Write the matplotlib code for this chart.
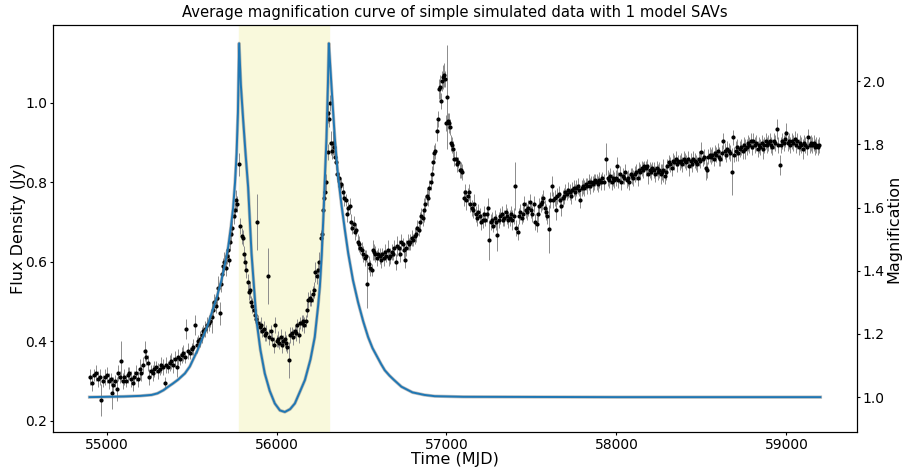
import numpy as np
import matplotlib
matplotlib.use('Agg')
import matplotlib.pyplot as plt
import matplotlib.patheffects as pe

mjd = [
    54905, 54916, 54927, 54938, 54949, 54960, 54970, 54981, 54992, 55003,
    55014, 55025, 55030, 55040, 55050, 55059, 55068, 55077, 55085, 55094,
    55104, 55114, 55124, 55134, 55144, 55154, 55164, 55174, 55184, 55194,
    55204, 55214, 55224, 55232, 55242, 55252, 55262, 55272, 55282, 55292,
    55302, 55312, 55322, 55332, 55343, 55352, 55362, 55372, 55382, 55392,
    55402, 55412, 55422, 55432, 55442, 55452, 55462, 55470, 55480, 55490,
    55500, 55510, 55520, 55530, 55540, 55550, 55560, 55570, 55580, 55590,
    55600, 55610, 55618, 55626, 55634, 55642, 55650, 55658, 55665, 55672,
    55679, 55686, 55693, 55700, 55707, 55714, 55721, 55728, 55734, 55741,
    55748, 55755, 55762, 55770, 55780, 55788, 55795, 55802, 55809, 55816,
    55823, 55830, 55837, 55844, 55851, 55858, 55865, 55872, 55879, 55886,
    55893, 55900, 55908, 55916, 55924, 55932, 55940, 55951, 55958, 55966,
    55975, 55984, 55992, 56000, 56008, 56016, 56024, 56032, 56040, 56048,
    56056, 56064, 56073, 56082, 56090, 56098, 56106, 56114, 56122, 56130,
    56140, 56148, 56156, 56164, 56172, 56180, 56188, 56196, 56204, 56212,
    56220, 56228, 56236, 56244, 56252, 56259, 56266, 56272, 56280, 56287,
    56294, 56300, 56305, 56311, 56316, 56322, 56328, 56334, 56340, 56346,
    56352, 56358, 56366, 56374, 56382, 56390, 56398, 56406, 56414, 56422,
    56430, 56438, 56446, 56454, 56462, 56470, 56478, 56486, 56494, 56502,
    56510, 56518, 56526, 56535, 56543, 56551, 56559, 56565, 56574, 56582,
    56590, 56598, 56606, 56614, 56622, 56630, 56638, 56646, 56654, 56662,
    56670, 56678, 56686, 56694, 56702, 56710, 56718, 56726, 56734, 56742,
    56750, 56756, 56764, 56772, 56780, 56788, 56796, 56804, 56812, 56820,
    56828, 56836, 56844, 56852, 56860, 56868, 56876, 56884, 56892, 56900,
    56908, 56914, 56921, 56928, 56935, 56942, 56950, 56956, 56962, 56968,
    56974, 56980, 56986, 56992, 56998, 57002, 57008, 57014, 57020, 57026,
    57032, 57040, 57047, 57054, 57062, 57070, 57078, 57086, 57094, 57102,
    57108, 57116, 57124, 57132, 57140, 57148, 57156, 57164, 57172, 57180,
    57188, 57196, 57204, 57212, 57220, 57228, 57236, 57244, 57252, 57260,
    57268, 57276, 57284, 57292, 57300, 57308, 57316, 57324, 57332, 57340,
    57348, 57356, 57364, 57372, 57380, 57388, 57396, 57402, 57410, 57418,
    57426, 57434, 57442, 57450, 57458, 57466, 57474, 57482, 57490, 57498,
    57506, 57514, 57522, 57530, 57538, 57546, 57554, 57562, 57570, 57578,
    57586, 57594, 57604, 57612, 57620, 57628, 57636, 57644, 57652, 57660,
    57668, 57676, 57684, 57692, 57700, 57708, 57716, 57724, 57732, 57740,
    57748, 57756, 57764, 57772, 57780, 57788, 57796, 57804, 57812, 57820,
    57828, 57836, 57844, 57852, 57860, 57868, 57876, 57884, 57892, 57900,
    57908, 57916, 57924, 57940, 57948, 57956, 57964, 57972, 57980, 57988,
    57996, 58004, 58012, 58020, 58028, 58036, 58044, 58052, 58060, 58068,
    58076, 58084, 58092, 58100, 58108, 58116, 58124, 58132, 58140, 58148,
    58156, 58164, 58172, 58180, 58188, 58196, 58204, 58212, 58220, 58228,
    58236, 58244, 58252, 58260, 58268, 58276, 58284, 58292, 58300, 58308,
    58316, 58324, 58332, 58340, 58348, 58356, 58364, 58372, 58380, 58388,
    58396, 58404, 58412, 58420, 58428, 58436, 58444, 58452, 58460, 58468,
    58476, 58484, 58492, 58500, 58508, 58516, 58524, 58532, 58540, 58548,
    58556, 58564, 58572, 58580, 58588, 58596, 58604, 58612, 58620, 58628,
    58636, 58644, 58652, 58660, 58668, 58678, 58686, 58694, 58702, 58710,
    58718, 58726, 58734, 58742, 58750, 58758, 58766, 58774, 58782, 58790,
    58798, 58806, 58814, 58822, 58830, 58838, 58846, 58854, 58862, 58870,
    58878, 58886, 58894, 58902, 58910, 58918, 58926, 58934, 58944, 58952,
    58960, 58968, 58976, 58984, 58992, 59000, 59008, 59016, 59024, 59032,
    59040, 59048, 59056, 59064, 59072, 59080, 59088, 59096, 59104, 59112,
    59120, 59128, 59136, 59144, 59152, 59160, 59168, 59176, 59184, 59192,
]

flux = [
    0.310, 0.295, 0.315, 0.320, 0.305, 0.310, 0.253, 0.300, 0.310, 0.315,
    0.300, 0.305, 0.270, 0.290, 0.300, 0.280, 0.320, 0.310, 0.350, 0.300,
    0.310, 0.300, 0.315, 0.320, 0.305, 0.295, 0.310, 0.320, 0.305, 0.330,
    0.320, 0.340, 0.375, 0.360, 0.345, 0.310, 0.325, 0.320, 0.330, 0.335,
    0.325, 0.330, 0.340, 0.335, 0.295, 0.340, 0.335, 0.345, 0.350, 0.340,
    0.355, 0.335, 0.360, 0.355, 0.365, 0.370, 0.360, 0.430, 0.375, 0.370,
    0.380, 0.385, 0.440, 0.390, 0.400, 0.405, 0.415, 0.425, 0.430, 0.440,
    0.445, 0.450, 0.460, 0.480, 0.500, 0.490, 0.510, 0.535, 0.470, 0.545,
    0.570, 0.590, 0.600, 0.585, 0.615, 0.630, 0.605, 0.650, 0.670, 0.685,
    0.715, 0.730, 0.755, 0.745, 0.845, 0.690, 0.665, 0.660, 0.620, 0.600,
    0.580, 0.550, 0.525, 0.530, 0.500, 0.490, 0.480, 0.465, 0.455, 0.700,
    0.445, 0.435, 0.440, 0.425, 0.430, 0.415, 0.420, 0.565, 0.410, 0.425,
    0.405, 0.390, 0.440, 0.400, 0.405, 0.395, 0.410, 0.390, 0.400, 0.405,
    0.395, 0.385, 0.353, 0.415, 0.420, 0.410, 0.425, 0.420, 0.440, 0.415,
    0.445, 0.445, 0.450, 0.440, 0.450, 0.480, 0.505, 0.510, 0.505, 0.520,
    0.530, 0.575, 0.565, 0.580, 0.600, 0.660, 0.670, 0.730, 0.760, 0.775,
    0.800, 0.877, 0.975, 0.960, 0.999, 0.900, 0.880, 0.900, 0.890, 0.865,
    0.850, 0.820, 0.810, 0.790, 0.795, 0.775, 0.760, 0.755, 0.720, 0.735,
    0.740, 0.700, 0.685, 0.695, 0.675, 0.680, 0.650, 0.645, 0.635, 0.630,
    0.620, 0.610, 0.615, 0.545, 0.595, 0.585, 0.580, 0.630, 0.625, 0.620,
    0.610, 0.620, 0.615, 0.605, 0.620, 0.610, 0.625, 0.615, 0.630, 0.610,
    0.615, 0.625, 0.620, 0.635, 0.600, 0.640, 0.635, 0.620, 0.650, 0.645,
    0.630, 0.605, 0.635, 0.650, 0.645, 0.650, 0.660, 0.655, 0.665, 0.670,
    0.685, 0.680, 0.700, 0.715, 0.710, 0.730, 0.745, 0.765, 0.760, 0.785,
    0.800, 0.820, 0.850, 0.875, 0.880, 0.930, 0.960, 1.035, 1.040, 1.005,
    1.055, 1.065, 1.070, 1.060, 0.950, 1.015, 0.955, 0.950, 0.940, 0.900,
    0.895, 0.885, 0.860, 0.860, 0.845, 0.850, 0.830, 0.830, 0.825, 0.760,
    0.775, 0.755, 0.765, 0.775, 0.745, 0.735, 0.730, 0.745, 0.720, 0.710,
    0.725, 0.715, 0.700, 0.705, 0.720, 0.705, 0.720, 0.735, 0.655, 0.700,
    0.705, 0.690, 0.710, 0.700, 0.668, 0.705, 0.715, 0.720, 0.705, 0.710,
    0.725, 0.715, 0.705, 0.710, 0.720, 0.705, 0.715, 0.790, 0.685, 0.675,
    0.715, 0.725, 0.710, 0.720, 0.745, 0.730, 0.725, 0.735, 0.750, 0.730,
    0.720, 0.745, 0.700, 0.695, 0.720, 0.740, 0.745, 0.750, 0.760, 0.735,
    0.725, 0.715, 0.683, 0.755, 0.790, 0.755, 0.760, 0.730, 0.765, 0.770,
    0.755, 0.740, 0.760, 0.765, 0.775, 0.770, 0.780, 0.775, 0.765, 0.780,
    0.785, 0.775, 0.785, 0.790, 0.780, 0.755, 0.785, 0.790, 0.785, 0.795,
    0.790, 0.800, 0.790, 0.800, 0.795, 0.800, 0.805, 0.800, 0.795, 0.805,
    0.800, 0.810, 0.800, 0.858, 0.810, 0.805, 0.815, 0.800, 0.810, 0.805,
    0.810, 0.840, 0.805, 0.820, 0.800, 0.815, 0.810, 0.825, 0.805, 0.810,
    0.800, 0.820, 0.815, 0.810, 0.820, 0.825, 0.810, 0.830, 0.825, 0.835,
    0.830, 0.840, 0.835, 0.840, 0.820, 0.830, 0.825, 0.835, 0.830, 0.820,
    0.835, 0.825, 0.830, 0.820, 0.825, 0.830, 0.815, 0.825, 0.840, 0.850,
    0.845, 0.835, 0.855, 0.850, 0.860, 0.845, 0.855, 0.850, 0.855, 0.845,
    0.860, 0.855, 0.850, 0.860, 0.840, 0.855, 0.845, 0.860, 0.855, 0.850,
    0.845, 0.860, 0.855, 0.876, 0.860, 0.865, 0.836, 0.830, 0.865, 0.870,
    0.865, 0.870, 0.860, 0.875, 0.870, 0.880, 0.865, 0.860, 0.875, 0.903,
    0.880, 0.870, 0.885, 0.880, 0.875, 0.827, 0.913, 0.870, 0.880, 0.890,
    0.875, 0.885, 0.890, 0.880, 0.895, 0.885, 0.890, 0.900, 0.895, 0.905,
    0.890, 0.905, 0.895, 0.900, 0.885, 0.895, 0.890, 0.900, 0.885, 0.895,
    0.905, 0.895, 0.900, 0.905, 0.895, 0.890, 0.905, 0.900, 0.934, 0.895,
    0.844, 0.895, 0.905, 0.900, 0.910, 0.924, 0.900, 0.905, 0.895, 0.905,
    0.900, 0.910, 0.895, 0.905, 0.890, 0.900, 0.895, 0.885, 0.900, 0.895,
    0.890, 0.914, 0.895, 0.900, 0.895, 0.900, 0.890, 0.895, 0.890, 0.895,
]

flux_err = [
    0.020, 0.020, 0.015, 0.020, 0.020, 0.020, 0.040, 0.015, 0.020, 0.020,
    0.020, 0.015, 0.040, 0.020, 0.015, 0.030, 0.020, 0.015, 0.050, 0.020,
    0.020, 0.015, 0.020, 0.015, 0.020, 0.020, 0.015, 0.020, 0.020, 0.025,
    0.020, 0.020, 0.025, 0.020, 0.020, 0.020, 0.015, 0.020, 0.020, 0.015,
    0.020, 0.015, 0.020, 0.020, 0.015, 0.020, 0.015, 0.020, 0.020, 0.020,
    0.020, 0.025, 0.020, 0.015, 0.020, 0.020, 0.015, 0.025, 0.020, 0.015,
    0.015, 0.020, 0.025, 0.020, 0.015, 0.020, 0.020, 0.015, 0.020, 0.020,
    0.020, 0.015, 0.040, 0.020, 0.020, 0.020, 0.020, 0.030, 0.030, 0.020,
    0.020, 0.020, 0.025, 0.020, 0.020, 0.020, 0.015, 0.020, 0.020, 0.020,
    0.020, 0.020, 0.025, 0.020, 0.030, 0.020, 0.020, 0.020, 0.020, 0.020,
    0.020, 0.020, 0.020, 0.020, 0.015, 0.020, 0.015, 0.020, 0.015, 0.070,
    0.020, 0.015, 0.020, 0.015, 0.020, 0.015, 0.020, 0.070, 0.020, 0.015,
    0.015, 0.020, 0.020, 0.015, 0.020, 0.015, 0.020, 0.020, 0.015, 0.020,
    0.020, 0.015, 0.045, 0.020, 0.015, 0.020, 0.015, 0.020, 0.015, 0.020,
    0.015, 0.020, 0.015, 0.020, 0.015, 0.020, 0.020, 0.020, 0.015, 0.020,
    0.020, 0.025, 0.020, 0.020, 0.025, 0.020, 0.025, 0.020, 0.020, 0.020,
    0.020, 0.020, 0.025, 0.020, 0.020, 0.030, 0.020, 0.030, 0.020, 0.020,
    0.020, 0.020, 0.015, 0.020, 0.015, 0.020, 0.020, 0.015, 0.020, 0.015,
    0.020, 0.020, 0.015, 0.020, 0.020, 0.015, 0.020, 0.020, 0.015, 0.020,
    0.020, 0.020, 0.015, 0.060, 0.020, 0.020, 0.015, 0.025, 0.020, 0.020,
    0.020, 0.015, 0.020, 0.020, 0.015, 0.020, 0.020, 0.015, 0.025, 0.020,
    0.020, 0.020, 0.015, 0.020, 0.020, 0.025, 0.020, 0.020, 0.020, 0.015,
    0.020, 0.020, 0.020, 0.020, 0.015, 0.020, 0.020, 0.015, 0.020, 0.020,
    0.020, 0.015, 0.025, 0.020, 0.020, 0.030, 0.020, 0.020, 0.020, 0.020,
    0.020, 0.020, 0.020, 0.020, 0.020, 0.025, 0.020, 0.025, 0.030, 0.020,
    0.025, 0.030, 0.030, 0.020, 0.020, 0.130, 0.020, 0.025, 0.020, 0.020,
    0.020, 0.020, 0.020, 0.020, 0.020, 0.015, 0.020, 0.020, 0.020, 0.020,
    0.020, 0.025, 0.020, 0.020, 0.020, 0.020, 0.020, 0.025, 0.020, 0.020,
    0.020, 0.020, 0.020, 0.020, 0.020, 0.015, 0.020, 0.025, 0.050, 0.020,
    0.020, 0.015, 0.020, 0.020, 0.040, 0.020, 0.020, 0.020, 0.015, 0.020,
    0.020, 0.020, 0.020, 0.020, 0.020, 0.025, 0.020, 0.060, 0.020, 0.020,
    0.020, 0.020, 0.015, 0.020, 0.020, 0.020, 0.020, 0.020, 0.020, 0.020,
    0.020, 0.020, 0.020, 0.020, 0.020, 0.020, 0.020, 0.020, 0.020, 0.020,
    0.020, 0.020, 0.060, 0.020, 0.025, 0.020, 0.020, 0.025, 0.020, 0.020,
    0.020, 0.025, 0.020, 0.020, 0.020, 0.015, 0.020, 0.020, 0.020, 0.020,
    0.020, 0.020, 0.020, 0.020, 0.015, 0.020, 0.020, 0.020, 0.020, 0.015,
    0.020, 0.020, 0.020, 0.015, 0.020, 0.020, 0.015, 0.020, 0.020, 0.020,
    0.020, 0.015, 0.020, 0.040, 0.020, 0.020, 0.020, 0.020, 0.020, 0.020,
    0.020, 0.025, 0.020, 0.020, 0.020, 0.020, 0.015, 0.020, 0.020, 0.020,
    0.020, 0.015, 0.020, 0.020, 0.020, 0.020, 0.020, 0.020, 0.020, 0.020,
    0.020, 0.015, 0.020, 0.020, 0.025, 0.020, 0.020, 0.015, 0.020, 0.020,
    0.020, 0.020, 0.020, 0.025, 0.020, 0.030, 0.020, 0.020, 0.020, 0.020,
    0.020, 0.020, 0.020, 0.020, 0.020, 0.020, 0.015, 0.020, 0.020, 0.020,
    0.020, 0.020, 0.020, 0.020, 0.025, 0.020, 0.020, 0.020, 0.020, 0.020,
    0.020, 0.020, 0.020, 0.025, 0.020, 0.020, 0.030, 0.020, 0.020, 0.020,
    0.020, 0.020, 0.020, 0.020, 0.020, 0.020, 0.025, 0.020, 0.020, 0.020,
    0.020, 0.020, 0.020, 0.020, 0.020, 0.060, 0.020, 0.020, 0.025, 0.020,
    0.020, 0.020, 0.020, 0.020, 0.020, 0.025, 0.020, 0.020, 0.020, 0.020,
    0.020, 0.020, 0.020, 0.020, 0.020, 0.020, 0.020, 0.020, 0.025, 0.020,
    0.020, 0.020, 0.020, 0.020, 0.020, 0.020, 0.020, 0.020, 0.025, 0.020,
    0.025, 0.020, 0.020, 0.020, 0.020, 0.025, 0.020, 0.020, 0.020, 0.020,
    0.020, 0.020, 0.020, 0.020, 0.020, 0.020, 0.020, 0.025, 0.020, 0.020,
    0.020, 0.020, 0.020, 0.020, 0.020, 0.020, 0.020, 0.020, 0.020, 0.020,
]

# average model magnification curve
model_mjd = [
    54900, 55000, 55100, 55200, 55265, 55300, 55335, 55363, 55390, 55420,
    55461, 55490, 55510, 55535, 55559, 55590, 55618, 55648, 55676, 55700,
    55716, 55732, 55745, 55756, 55765, 55773, 55780, 55790, 55804, 55818,
    55833, 55853, 55870, 55882, 55905, 55931, 55960, 55990, 56020, 56049,
    56080, 56108, 56140, 56167, 56200, 56225, 56245, 56255, 56266, 56275,
    56285, 56294, 56302, 56308, 56316, 56324, 56343, 56362, 56382, 56402,
    56422, 56450, 56480, 56510, 56539, 56565, 56590, 56615, 56637, 56665,
    56690, 56735, 56800, 56870, 56931, 57100, 58000, 59200,
]
model_mag = [
    1.000, 1.001, 1.002, 1.004, 1.007, 1.012, 1.022, 1.033, 1.043, 1.055,
    1.075, 1.097, 1.120, 1.148, 1.180, 1.220, 1.265, 1.315, 1.370, 1.430,
    1.476, 1.540, 1.600, 1.680, 1.770, 1.900, 2.120, 1.990, 1.876, 1.770,
    1.665, 1.455, 1.330, 1.244, 1.150, 1.075, 1.020, 0.980, 0.958, 0.953,
    0.962, 0.980, 1.020, 1.054, 1.120, 1.190, 1.290, 1.350, 1.450, 1.560,
    1.700, 1.820, 1.980, 2.120, 2.050, 1.980, 1.820, 1.700, 1.610, 1.530,
    1.455, 1.370, 1.300, 1.240, 1.190, 1.155, 1.130, 1.105, 1.085, 1.068,
    1.055, 1.033, 1.015, 1.007, 1.003, 1.001, 1.000, 1.000,
]

# SAV window highlighted in the figure
sav_start, sav_end = 55780, 56308

fig, ax = plt.subplots(figsize=(9.03, 4.72), dpi=100)
fig.subplots_adjust(left=0.0587, right=0.949, top=0.947, bottom=0.085)

ax.axvspan(sav_start, sav_end, color='#f9f9dc', zorder=0)
ax.errorbar(mjd, flux, yerr=flux_err, fmt='.', color='k', ecolor='#8c8c8c',
            elinewidth=0.7, markersize=4, zorder=3)
ax.set_xlim(54685, 59415)
ax.set_ylim(0.172, 1.196)
ax.set_yticks([0.2, 0.4, 0.6, 0.8, 1.0])
ax.set_xlabel('Time (MJD)', fontsize=11.5)
ax.set_ylabel('Flux Density (Jy)', fontsize=11.5)
ax.xaxis.set_label_coords(0.5, -0.05)
ax.yaxis.set_label_coords(-0.034, 0.5)
ax.tick_params(labelsize=10, length=2.2, pad=2)
ax.set_title('Average magnification curve of simple simulated data with 1 model SAVs',
             fontsize=10.6)

ax2 = ax.twinx()
ax2.plot(model_mjd, model_mag, color='#1f77b4', lw=1.4,
         path_effects=[pe.Stroke(linewidth=2.4, foreground='gray', alpha=0.5), pe.Normal()])
ax2.set_ylim(0.89, 2.178)
ax2.set_yticks([1.0, 1.2, 1.4, 1.6, 1.8, 2.0])
ax2.set_ylabel('Magnification', fontsize=11.5)
ax2.yaxis.set_label_coords(1.037, 0.5)
ax2.tick_params(labelsize=10, length=2.2, pad=2)

plt.savefig('out.png', dpi=100)
